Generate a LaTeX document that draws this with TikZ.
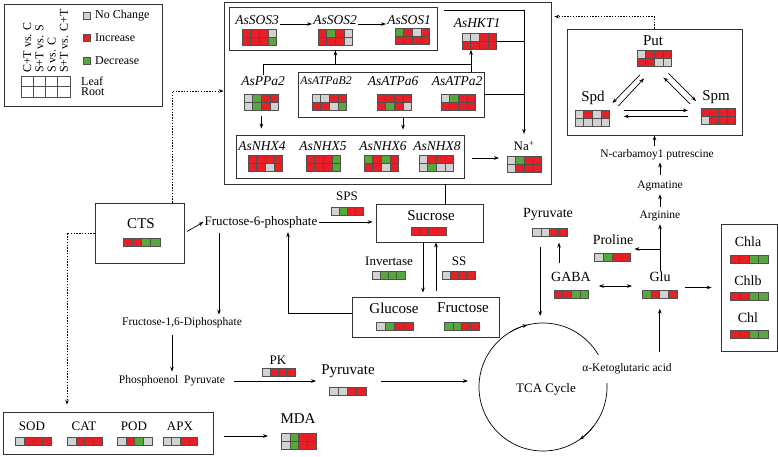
\documentclass[tikz,border=0pt]{standalone}
\usepackage{fontspec}
\setmainfont{Liberation Serif}
\usetikzlibrary{arrows.meta,positioning,calc}

\definecolor{nc}{RGB}{210,210,210}
\definecolor{up}{RGB}{230,32,38}
\definecolor{dn}{RGB}{86,168,60}
\definecolor{celledge}{RGB}{80,80,80}

\tikzset{
  box/.style={draw=black!80, line width=0.8pt, inner sep=0pt},
  cell/.style={draw=celledge, line width=0.6pt},
  conn/.style={line width=0.7pt},
  link/.style={conn, ->},
  dotlink/.style={conn, ->, dash pattern=on 1.4pt off 1.4pt},
  gene/.style={font=\fontsize{13.5}{15}\selectfont\itshape, inner sep=1pt},
  metab/.style={font=\fontsize{15}{17}\selectfont, inner sep=1pt},
  mid/.style={font=\fontsize{14}{16}\selectfont, inner sep=1pt},
  enz/.style={font=\fontsize{13}{15}\selectfont, inner sep=1pt},
  small/.style={font=\fontsize{11.5}{13}\selectfont, inner sep=1pt},
  legtxt/.style={font=\fontsize{12}{14}\selectfont, inner sep=1pt},
  >={Stealth[length=5pt,width=3.6pt]}
}

% one row of four coloured cells: [cell width] name, x, y, colours
\newcommand{\cellrow}[5][8.6]{%
  \node[inner sep=0pt, minimum width=4*#1pt, minimum height=8.2pt, anchor=north west] (#2) at (#3,#4) {};
  \foreach \col [count=\i from 0] in {#5}
    \draw[cell, fill=\col] (#3+\i*#1,#4) rectangle ++(#1,8.2);
}
% two rows (leaf / root): [cell width] name, x, y, top row, bottom row
\newcommand{\cellgrid}[6][8.6]{%
  \node[inner sep=0pt, minimum width=4*#1pt, minimum height=16.4pt, anchor=north west] (#2) at (#3,#4) {};
  \foreach \col [count=\i from 0] in {#5}
    \draw[cell, fill=\col] (#3+\i*#1,#4) rectangle ++(#1,8.2);
  \foreach \col [count=\i from 0] in {#6}
    \draw[cell, fill=\col] (#3+\i*#1,#4+8.2) rectangle ++(#1,8.2);
}

\begin{document}
\begin{tikzpicture}[x=1pt, y=-1pt]
    \useasboundingbox (0,0) rectangle (778,456);

    % Legend
    \node[box, minimum width=158pt, minimum height=102pt] (legend) at (83,55) {};
    \foreach \t [count=\i from 0] in {C+T vs. C, S+T vs. S, S vs. C, S+T vs. C+T}
        \node[legtxt, rotate=90, anchor=west] (cmp\i) at (27.3+\i*12.25,74) {\t};
    \foreach \i in {0,...,3} {
        \foreach \j in {0,1}
            \draw[cell, fill=white] (21+\i*12.25,76+\j*10.5) rectangle ++(12.25,10.5);
    }
    \node[legtxt, anchor=west] (leaf) at (80,81) {Leaf};
    \node[legtxt, anchor=west] (root) at (80,92) {Root};
    \foreach \col/\t/\y [count=\k] in {nc/No Change/16, up/Increase/38, dn/Decrease/61} {
        \draw[cell, fill=\col] (83,\y-3.5) rectangle ++(7,7);
        \node[legtxt, anchor=west] (key\k) at (94,\y) {\t};
    }

    % Na+ transport
    \node[box, minimum width=327pt, minimum height=182pt] (nabox) at (387.5,93) {};
    \node[box, minimum width=208pt, minimum height=43pt] (sosbox) at (333,28.5) {};
    \node[box, minimum width=186pt, minimum height=45pt] (atpbox) at (391,94.5) {};
    \node[box, minimum width=228pt, minimum height=43pt] (nhxbox) at (350,156.5) {};

    \node[gene] (sos3) at (257,20) {AsSOS3};
    \cellgrid{sos3g}{242}{29}{up,up,up,nc}{up,up,up,dn}
    \node[gene] (sos2) at (335,20) {AsSOS2};
    \cellgrid{sos2g}{318}{29}{up,dn,up,nc}{up,up,up,nc}
    \node[gene] (sos1) at (409,20) {AsSOS1};
    \cellgrid{sos1g}{395}{28}{dn,up,nc,up}{up,up,up,up}
    \node[gene] (hkt1) at (477,23) {AsHKT1};
    \cellgrid{hkt1g}{462}{33}{nc,nc,up,up}{up,up,up,up}

    \node[gene] (ppa2) at (263,81) {AsPPa2};
    \cellgrid{ppa2g}{244}{94}{nc,dn,up,up}{nc,dn,up,nc}
    \node[gene, font=\fontsize{11.8}{14}\selectfont\itshape] (atpb2) at (326,81) {AsATPaB2};
    \cellgrid{atpb2g}{312}{94}{nc,nc,up,up}{up,up,nc,dn}
    \node[gene] (atp6) at (393,81) {AsATPa6};
    \cellgrid{atp6g}{377}{94}{up,up,up,up}{up,dn,up,nc}
    \node[gene] (atp2) at (457,81) {AsATPa2};
    \cellgrid{atp2g}{441}{94}{nc,dn,up,up}{up,up,up,up}

    \node[gene] (nhx4) at (262,146) {AsNHX4};
    \cellgrid{nhx4g}{248}{155}{up,up,up,up}{up,up,nc,up}
    \node[gene] (nhx5) at (323,146) {AsNHX5};
    \cellgrid{nhx5g}{306}{155}{up,up,up,dn}{up,up,up,dn}
    \node[gene] (nhx6) at (383,146) {AsNHX6};
    \cellgrid{nhx6g}{364}{155}{dn,up,dn,up}{up,up,nc,up}
    \node[gene] (nhx8) at (437,146) {AsNHX8};
    \cellgrid{nhx8g}{419}{155}{nc,up,up,up}{nc,dn,nc,nc}

    \node[enz] (na) at (524,146) {Na\textsuperscript{+}};
    \cellgrid{nag}{507}{156}{nc,dn,up,up}{nc,up,up,up}

    \draw[link] ([yshift=-4pt]sos3.east) -- ([yshift=-4pt]sos2.west);
    \draw[link] ([yshift=-4pt]sos2.east) -- ([yshift=-4pt]sos1.west);
    \draw[link, shorten >=6pt] ([xshift=7pt,yshift=-4pt]sosbox.north east) -| (na.north);
    \draw[conn] (hkt1g.east) -- (hkt1g.east -| na.north);
    \draw[conn] (atpbox.east) -- (atpbox.east -| na.north);
    \coordinate (bus) at (471,64);
    \draw[conn] (ppa2.north) |- (bus);
    \draw[link] (atpbox.north -| bus) -- (hkt1g.south -| bus);
    \draw[link] (bus -| sos2g.south) -- (sosbox.south -| sos2g.south);
    \draw[link, shorten <=5pt, shorten >=6pt] (ppa2g.south) -- (ppa2g.south |- nhxbox.north);
    \draw[link, shorten >=5pt] ([xshift=12pt]atpbox.south) -- ([xshift=12pt]atpbox.south |- nhxbox.north);
    \draw[link, shorten <=8pt, shorten >=8pt] ([yshift=-1.5pt]nhxbox.east) -- ([yshift=-1.5pt]nhxbox.east -| nag.west);

    % Polyamines
    \node[box, minimum width=175pt, minimum height=106pt] (pabox) at (654.5,82) {};
    \node[metab] (put) at (653,41) {Put};
    \cellgrid{putg}{637}{50}{nc,up,up,up}{up,up,nc,nc}
    \node[metab] (spd) at (593,98) {Spd};
    \cellgrid{spdg}{575}{110}{nc,up,nc,up}{nc,nc,nc,nc}
    \node[metab] (spm) at (716,97) {Spm};
    \cellgrid{spmg}{701}{108}{up,up,up,up}{nc,up,up,up}
    \draw[link] ($(putg.south west)+(3,8)$) -- ($(spdg.north east)+(2.6,-7)$);
    \draw[link] ($(spdg.north east)+(8.6,-4)$) -- ($(putg.south west)+(7,11.6)$);
    \draw[link] ($(spmg.north west)+(-11,-4)$) -- ($(putg.south east)+(-8.4,10.6)$);
    \draw[link] ($(putg.south east)+(-3.4,6.6)$) -- ($(spmg.north west)+(-5,-7)$);
    \draw[link, shorten <=14pt, shorten >=13pt] ([yshift=8pt]spdg.east) -- ([yshift=8pt]spdg.east -| spmg.west);
    \draw[link, shorten <=13pt, shorten >=14pt] (spmg.west) -- (spmg.west -| spdg.east);
    \draw[dotlink, shorten >=3pt] (pabox.north) |- ([yshift=-15pt]nabox.north east);

    \node[small] (ncarb) at (657,155) {N-carbamoy1 putrescine};
    \node[small] (agm) at (660,186) {Agmatine};
    \node[small] (arg) at (660,216) {Arginine};
    \draw[link, shorten <=5pt, shorten >=1pt] (agm.north) -- (agm.north |- ncarb.south);
    \draw[link, shorten <=3pt] (ncarb.north -| pabox.south) -- (pabox.south);
    \draw[link, shorten <=3pt, shorten >=2pt] (arg.north) -- (agm.south);

    % Amino acids
    \node[mid] (pyr1) at (548,214) {Pyruvate};
    \cellrow[8.8]{pyr1g}{532}{228}{nc,nc,up,up}
    \node[mid] (proline) at (613,240) {Proline};
    \cellrow[9]{prolg}{594}{253}{nc,dn,up,up}
    \node[mid] (gaba) at (571,277) {GABA};
    \cellrow{gabag}{554}{290}{up,up,dn,dn}
    \node[mid] (glu) at (660,277) {Glu};
    \cellrow[8.8]{glug}{642}{290}{dn,up,nc,up}

    \node[box, minimum width=56pt, minimum height=127pt] (chlbox) at (749,287.5) {};
    \node[mid] (chla) at (748,242) {Chla};
    \cellrow[9.5]{chlag}{730}{255}{up,up,dn,dn}
    \node[mid] (chlb) at (748,281) {Chlb};
    \cellrow[9.5]{chlbg}{730}{292}{up,up,dn,dn}
    \node[mid] (chl) at (748,318) {Chl};
    \cellrow[9.5]{chlg}{730}{330}{up,up,dn,dn}

    \draw[link, shorten <=8pt, shorten >=6pt] ([xshift=-12pt]gaba.north) -- ([xshift=-12pt]gaba.north |- pyr1g.south);
    \draw[<->, conn, shorten <=10pt, shorten >=10pt] ([yshift=4pt]gabag.north east) -- ([yshift=4pt]glug.north west);
    \draw[link, shorten <=7pt, shorten >=9pt] (chlbox.west -| glug.east) -- (chlbox.west);
    \draw[link, shorten >=2pt] (glu.north) -- (glu.north |- arg.south);
    \draw[link] ([yshift=-9pt]proline.east -| glu.north) -- ([yshift=-9pt]proline.east);

    % TCA cycle
    \node[draw, circle, conn, minimum size=128pt, inner sep=0pt, outer sep=0pt] (tca) at (543,387) {};
    \node[enz] (tcalabel) at (546,389) {TCA Cycle};
    \draw[link] (tca.122) arc[start angle=122, end angle=104, radius=64pt];
    \draw[link] (tca.322) arc[start angle=322, end angle=305, radius=64pt];
    \node[small, fill=white, inner ysep=9pt] (akg) at (627,369) {α-Ketoglutaric acid};
    \draw[link, shorten <=3pt, shorten >=10pt] (akg.north -| glug.south) -- (glug.south);
    \draw[link, shorten <=10.8pt, shorten >=7pt] ([xshift=-9.6pt]pyr1g.south) -- ([xshift=-9.6pt]pyr1g.south |- tca.north);

    % Sugars
    \node[box, minimum width=89pt, minimum height=60pt] (ctsbox) at (139.5,233) {};
    \node[metab] (cts) at (141,224) {CTS};
    \cellrow[9.2]{ctsg}{123}{238}{up,up,dn,dn}
    \node[enz] (f6p) at (261,222) {Fructose-6-phosphate};
    \node[enz] (sps) at (347,196) {SPS};
    \cellrow[8]{spsg}{331}{207}{nc,dn,up,up}
    \node[box, minimum width=107pt, minimum height=38pt] (sucbox) at (429.5,223) {};
    \node[metab] (sucrose) at (431,216) {Sucrose};
    \cellrow[8.7]{sucg}{411}{227}{up,up,up,up}
    \node[enz] (invertase) at (389,261) {Invertase};
    \cellrow[8.2]{invg}{372}{271}{nc,dn,dn,dn}
    \node[enz] (ss) at (459,261) {SS};
    \cellrow[8.2]{ssg}{442}{271}{nc,up,up,up}
    \node[box, minimum width=147pt, minimum height=40pt] (glcbox) at (425.5,317) {};
    \node[metab] (glucose) at (394,308) {Glucose};
    \cellrow[9.2]{glcg}{376}{322}{nc,dn,up,up}
    \node[metab] (fructose) at (463,308) {Fructose};
    \cellrow[8.8]{frug}{444}{322}{dn,dn,up,up}

    \node[small] (f16) at (182,323) {Fructose-1,6-Diphosphate};
    \node[small] (pep) at (172,381) {Phosphoenol\enspace Pyruvate};
    \node[enz] (pk) at (278,360) {PK};
    \cellrow[8.2]{pkg}{262}{368}{nc,up,up,up}
    \node[metab] (pyr2) at (348,371) {Pyruvate};
    \cellrow[9.2]{pyr2g}{329}{387}{nc,nc,up,up}

    \draw[link, shorten <=3pt] (ctsbox.east) -- (f6p.west);
    \draw[link, shorten >=3pt] (f6p.east) -- (f6p.east -| sucbox.west);
    \draw[link, shorten <=4pt, shorten >=2pt] ([xshift=-42pt]f6p.south) -- ([xshift=-42pt]f6p.south |- f16.north);
    \draw[link, shorten <=6pt, shorten >=3pt] (pep.north |- f16.south) -- (pep.north);
    \draw[link, shorten <=8pt, shorten >=4pt] (pep.east) -- (pep.east -| pyr2.west);
    \draw[link, shorten <=5pt, shorten >=11pt] (pyr2.east |- pep.east) -- (pep.east -| tca.west);
    \draw[link, shorten >=4pt] ([xshift=-6.5pt]sucbox.south) -- ([xshift=-6.5pt]sucbox.south |- glcbox.north);
    \draw[link, shorten <=6pt] ([xshift=10.5pt]glcbox.north) -- ([xshift=10.5pt]glcbox.north |- sucbox.south);
    \draw[link, shorten >=3pt] ([yshift=4pt]glcbox.west) -| ([xshift=27pt]f6p.south);
    \draw[conn] ([xshift=15.5pt]sucbox.north) -- ([xshift=15.5pt]sucbox.north |- nabox.south);
    \draw[dotlink] ([xshift=-12pt]ctsbox.north east) |- ([yshift=2pt]nabox.west);

    % Antioxidant enzymes
    \node[box, minimum width=210pt, minimum height=42pt] (sodbox) at (108,433) {};
    \node[enz] (sod) at (32,426) {SOD};
    \cellrow[9]{sodg}{15}{437}{nc,up,up,up}
    \node[enz] (cat) at (84,426) {CAT};
    \cellrow[8.8]{catg}{67}{437}{nc,up,up,up}
    \node[enz] (pod) at (134,426) {POD};
    \cellrow[8.8]{podg}{117}{437}{nc,up,dn,nc}
    \node[enz] (apx) at (180,426) {APX};
    \cellrow[8.6]{apxg}{163}{437}{nc,nc,up,up}
    \node[metab] (mda) at (298,419) {MDA};
    \cellgrid[8.8]{mdag}{281}{433}{nc,dn,up,up}{nc,dn,up,up}
    \draw[link, shorten <=11pt, shorten >=13pt] ([yshift=-3pt]sodbox.east) -- ([yshift=-3pt]sodbox.east -| mdag.west);
    \draw[dotlink, shorten >=7pt] (ctsbox.west) -| (sodbox.north -| catg.west);
\end{tikzpicture}
\end{document}
